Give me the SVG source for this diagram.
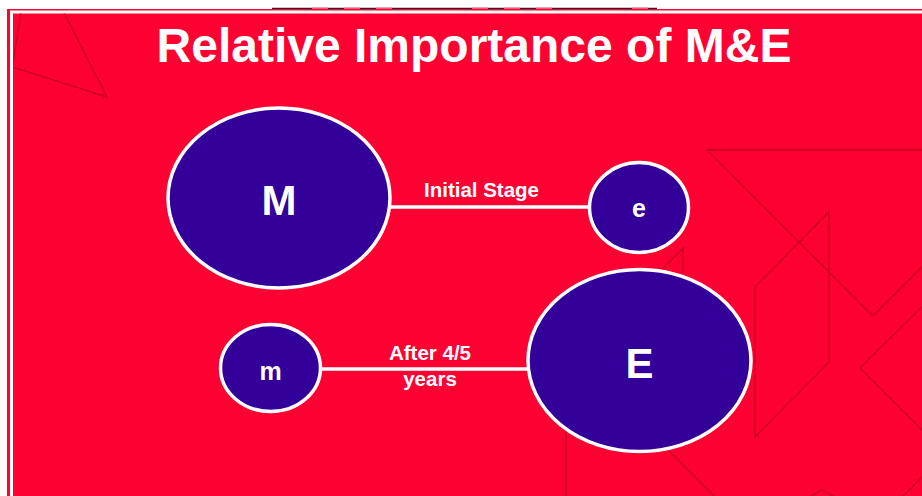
<svg xmlns="http://www.w3.org/2000/svg" width="922" height="496" viewBox="0 0 922 496">
  <style>
    .node { fill: #330099; stroke: #ffffff; stroke-width: 3.5; }
    .big { font-family: "Liberation Sans", Arial, sans-serif; font-weight: bold; font-size: 42px; fill: #ffffff; text-anchor: middle; }
    .small { font-family: "Liberation Sans", Arial, sans-serif; font-weight: bold; font-size: 25px; fill: #ffffff; text-anchor: middle; }
    .label { font-family: "Liberation Sans", Arial, sans-serif; font-weight: bold; font-size: 20.5px; fill: #ffffff; text-anchor: middle; }
    .title { font-family: "Liberation Sans", Arial, sans-serif; font-weight: bold; font-size: 48px; fill: #ffffff; text-anchor: middle; }
    .deco { fill: none; stroke: #c8001c; stroke-width: 1.4; }
    .link { stroke: #ffffff; stroke-width: 3.5; }
  </style>
  <defs>
    <clipPath id="panel">
      <rect x="13.5" y="13.5" width="910" height="484"/>
    </clipPath>
  </defs>

  <!-- page and slide frame -->
  <rect x="0" y="0" width="922" height="496" fill="#ffffff"/>
  <line x1="272" y1="8.5" x2="657" y2="8.5" stroke="#222222" stroke-width="1.5"/>
  <line x1="272" y1="8.5" x2="657" y2="8.5" stroke="#ff5577" stroke-width="1.5" stroke-dasharray="0 40 16 16 16 16 16 40"/>
  <rect x="7" y="9" width="915" height="487" fill="#ff0033"/>
  <rect x="11.5" y="12" width="920" height="490" fill="none" stroke="#ffffff" stroke-width="3"/>

  <!-- background line ornaments -->
  <g clip-path="url(#panel)">
    <polyline class="deco" points="22,5 12,70"/>
    <polyline class="deco" points="60,5 107,97 0,63"/>
    <polyline class="deco" points="930,150 707,150 873,316 930,259"/>
    <polygon class="deco" points="755,287 829,212 829,362 755,437"/>
    <polyline class="deco" points="930,299 860,368 930,438"/>
    <polyline class="deco" points="683,273 683,248 566,365 566,500"/>
    <line class="deco" x1="640" y1="422" x2="720" y2="502"/>
    <polyline class="deco" points="800,502 822,490 844,502"/>
    <line class="deco" x1="930" y1="469" x2="900" y2="499"/>
  </g>

  <!-- title -->
  <text class="title" x="474" y="62">Relative Importance of M&amp;E</text>

  <!-- connectors -->
  <g id="connectors">
    <line class="link" x1="390" y1="207" x2="590" y2="207"/>
    <text class="label" x="481.5" y="197">Initial Stage</text>
    <line class="link" x1="320" y1="369" x2="529" y2="369"/>
    <text class="label" x="430" y="360">After 4/5</text>
    <text class="label" x="430" y="386">years</text>
  </g>

  <!-- nodes -->
  <g id="node-M">
    <ellipse class="node" cx="279" cy="198" rx="111" ry="90"/>
    <text class="big" x="279" y="215">M</text>
  </g>
  <g id="node-e">
    <ellipse class="node" cx="639" cy="207.5" rx="49.5" ry="45"/>
    <text class="small" x="639" y="217">e</text>
  </g>
  <g id="node-m">
    <ellipse class="node" cx="270.5" cy="368" rx="50" ry="43.5"/>
    <text class="small" x="270.5" y="380">m</text>
  </g>
  <g id="node-E">
    <ellipse class="node" cx="639.5" cy="360.5" rx="111.5" ry="91"/>
    <text class="big" x="639.5" y="378">E</text>
  </g>
</svg>
